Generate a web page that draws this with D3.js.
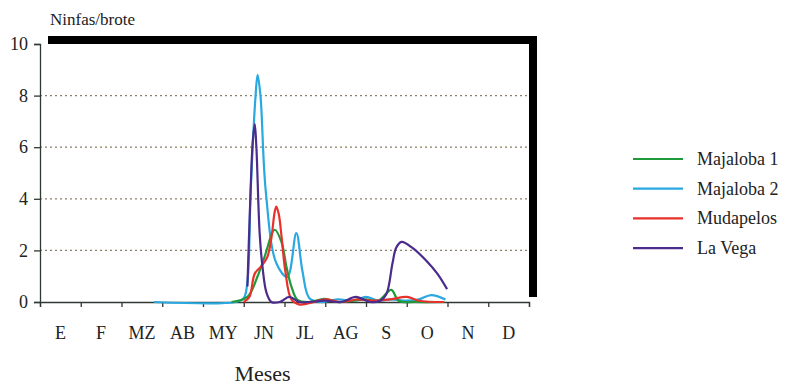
<!DOCTYPE html>
<html><head><meta charset="utf-8">
<script src="https://cdn.jsdelivr.net/npm/d3@7"></script>
<style>body{margin:0;background:#fff}svg{display:block}</style>
</head><body><svg id="c" width="792" height="386"></svg>
<script>
const months = ["E","F","MZ","AB","MY","JN","JL","AG","S","O","N","D"];
const yTicks = [0,2,4,6,8,10];
const seriesNames = ["Majaloba 1","Majaloba 2","Mudapelos","La Vega"];
const seriesColors = ["#1f9a3b","#2aa8e0","#e8312a","#4b2b8c"];

// time in months (0 = start of E), value in ninfas/brote
const maj1T = [4.70,5.09,5.34,5.51,5.76,5.93,6.05,6.17,6.32,6.6,6.98,7.3,7.7,8.0,8.3,8.62,8.8,9.2,9.92];
const maj1V = [0,0.2,1.0,1.75,2.8,2.3,1.35,0.6,0.08,0,0.12,0,0.05,0.1,0.05,0.47,0.05,0,0];
const maj2T = [2.8,4.8,5.0,5.09,5.17,5.29,5.34,5.41,5.54,5.8,6.07,6.29,6.44,6.61,6.9,7.3,7.7,8.0,8.3,8.6,9.0,9.3,9.6,9.95];
const maj2V = [0,0,0.15,0.78,4.3,8.0,8.8,8.0,4.3,1.5,0.97,2.67,1.2,0.15,0,0.1,0.05,0.2,0.05,0.1,0.05,0.1,0.27,0.1];
const mudT = [5.0,5.14,5.27,5.44,5.58,5.68,5.76,5.80,5.86,5.93,6.02,6.17,6.37,6.6,7.0,7.4,7.8,8.2,8.6,9.0,9.3,9.92];
const mudV = [0,0.2,1.1,1.4,1.75,2.5,3.5,3.7,3.4,2.5,1.2,0.1,-0.1,-0.05,0.1,0,0.1,0.05,0.1,0.2,0.05,0];
const vegaT = [5.09,5.15,5.22,5.27,5.31,5.39,5.46,5.56,5.68,5.88,6.12,6.37,7.0,7.4,7.75,8.1,8.35,8.5,8.65,8.74,8.87,9.14,9.48,9.75,9.99];
const vegaV = [0.6,3.5,6.2,6.9,6.0,2.67,1.36,0.35,0,0,0.2,0,0.05,0,0.2,0,0.05,0.3,1.5,2.1,2.33,2.1,1.6,1.1,0.5];

const seriesT = [maj1T, maj2T, mudT, vegaT];
const seriesV = [maj1V, maj2V, mudV, vegaV];

const FONT = "'Liberation Serif', 'Tinos', 'DejaVu Serif', 'Times New Roman', serif";
const svg = d3.select("#c");
const L = 40, R = 529, T = 44, B = 302;
const x = d3.scaleLinear().domain([0,12]).range([L,R]);
const y = d3.scaleLinear().domain([0,10]).range([B,T]);

// shadow frame
svg.append("rect").attr("x",L+8).attr("y",T-8).attr("width",R-L).attr("height",B-T+3).attr("fill","#000");
svg.append("rect").attr("x",L).attr("y",T).attr("width",R-L).attr("height",B-T).attr("fill","#fff");

// grid
svg.append("g").selectAll("line").data(yTicks.filter(d=>d>0&&d<10)).join("line")
  .attr("x1",L).attr("x2",R).attr("y1",d=>y(d)).attr("y2",d=>y(d))
  .attr("stroke","#8a7d66").attr("stroke-width",1.3).attr("stroke-dasharray","2,3");

// y axis
const ya = svg.append("g").attr("transform",`translate(${L},0)`)
  .call(d3.axisLeft(y).tickValues(yTicks).tickSize(6).tickPadding(6).tickFormat(d3.format("d")));
ya.attr("font-family",FONT);
ya.select(".domain").attr("stroke","#2f3a34").attr("stroke-width",1.3);
ya.selectAll(".tick line").attr("stroke","#2f3a34").attr("stroke-width",1.3);
ya.selectAll("text").attr("font-size",18).style("font-family",FONT).attr("fill","#222");

// x axis
const xa = svg.append("g").attr("transform",`translate(0,${B})`)
  .call(d3.axisBottom(x).tickValues(d3.range(0,13)).tickSize(5).tickFormat(""));
xa.select(".domain").attr("stroke","#2f3a34").attr("stroke-width",1.3);
xa.selectAll(".tick line").attr("stroke","#2f3a34").attr("stroke-width",1.3);
svg.append("g").selectAll("text").data(months).join("text")
  .attr("x",(d,i)=>x(i+0.5)).attr("y",339).attr("text-anchor","middle")
  .style("font-family",FONT).attr("fill","#222")
  .attr("font-size",18).text(d=>d);

// lines
const line = d3.line().x(d=>x(d[0])).y(d=>y(d[1])).curve(d3.curveCatmullRom.alpha(0.5));
const order = [1,0,2,3];
order.forEach(i=>{
  const pts = seriesT[i].map((t,k)=>[t, seriesV[i][k]]);
  svg.append("path").datum(pts).attr("d",line).attr("fill","none")
    .attr("stroke",seriesColors[i]).attr("stroke-width",2.2).attr("stroke-linejoin","round");
});

// titles
svg.append("text").attr("x",50).attr("y",25).attr("font-size",17).style("font-family",FONT).attr("fill","#222").text("Ninfas/brote");
svg.append("text").attr("x",(L+R)/2-22).attr("y",381).attr("text-anchor","middle").attr("font-size",22).style("font-family",FONT).attr("fill","#222").text("Meses");

// legend
const lg = svg.append("g");
seriesNames.forEach((n,i)=>{
  const yy = 159 + i*29.7;
  lg.append("line").attr("x1",633).attr("x2",683).attr("y1",yy).attr("y2",yy)
    .attr("stroke",seriesColors[i]).attr("stroke-width",2.2);
  lg.append("text").attr("x",697).attr("y",yy+6).attr("font-size",18).style("font-family",FONT).attr("fill","#222").text(n);
});
</script></body></html>
